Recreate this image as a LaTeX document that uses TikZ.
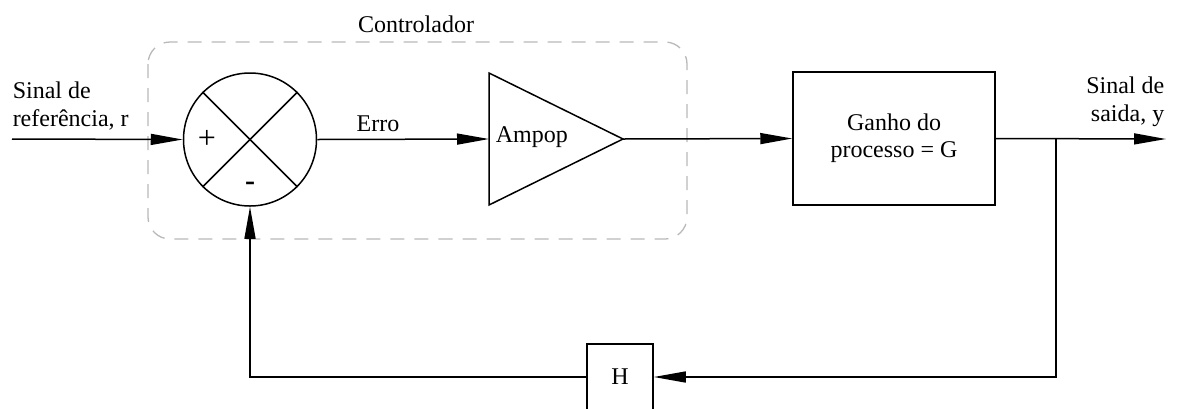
\documentclass[tikz,border=0pt]{standalone}
\usepackage{fontspec}
\setmainfont{Liberation Serif}
\usetikzlibrary{arrows.meta}
\begin{document}
\begin{tikzpicture}[x=1pt,y=-1pt, line width=1.5pt,
  arr/.style={-{Triangle[length=32pt,width=11pt]}},
  txt/.style={font=\fontsize{24}{28}\selectfont, inner sep=0pt},
  blk/.style={draw, rectangle, inner sep=0pt, font=\fontsize{24}{27}\selectfont, align=center}]
\useasboundingbox (0,0) rectangle (1177,408);
% controller frame
\draw[gray!55, line width=1.3pt, dash pattern=on 14pt off 10pt, rounded corners=22pt] (148,42) rectangle (687,239);
\node[txt] (ctl) at (416,24) {Controlador};
% summing junction
\node[draw, circle, minimum size=133pt, inner sep=0pt] (sum) at (250,139.5) {};
\draw (sum.45) -- (sum.225);
\draw (sum.135) -- (sum.-45);
\node[txt, font=\fontsize{32}{32}\selectfont] (plus) at (207,139) {+};
\node[txt, font=\fontsize{30}{30}\selectfont\bfseries] (minus) at (250,186) {-};
% input
\coordinate (in) at (12,139);
\node[txt, align=left, anchor=west] (reftxt) at (12,106) {Sinal de\\referência, r};
\draw[arr] (in) -- (sum.west);
% amplifier
\coordinate (ampin) at (489,139);
\coordinate (amptop) at (489,73);
\coordinate (ampbot) at (489,205);
\coordinate (ampout) at (623,139);
\draw (amptop) -- (ampout) -- (ampbot) -- cycle;
\node[txt, anchor=west] (amptxt) at (495,137) {Ampop};
\node[txt] (erro) at (378,124) {Erro};
\draw[arr] (sum.east) -- (ampin);
% process
\node[blk, minimum width=202pt, minimum height=133pt] (G) at (894,138.5) {Ganho do\\processo = G};
\draw[arr] (ampout) -- (G.west);
\coordinate (br) at (1056,139);
\coordinate (out) at (1166,139);
\draw[arr] (G.east) -- (out);
\node[txt, align=right, anchor=east] (outtxt) at (1165,102) {Sinal de\\saida, y};
% feedback
\node[blk, minimum size=66pt] (H) at (620,377) {H};
\coordinate (c1) at (1056,377);
\coordinate (c2) at (250,377);
\draw[arr] (br) -- (c1) -- (H.east);
\draw[arr] (H.west) -- (c2) -- (sum.south);
\end{tikzpicture}
\end{document}
